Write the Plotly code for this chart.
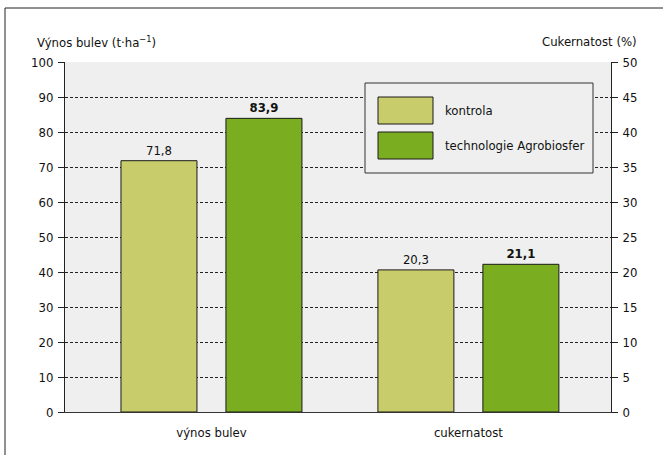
import plotly.graph_objects as go

categories = ["výnos bulev", "cukernatost"]
series_names = ["kontrola", "technologie Agrobiosfer"]
kontrola = [71.8, 20.3]
technologie = [83.9, 21.1]
left_ticks = list(range(0, 101, 10))
right_ticks = list(range(0, 51, 5))

FONT = "DejaVu Sans Condensed, Liberation Sans Narrow, Arial Narrow, sans-serif"
FS = 13
C1 = "#c9cc6b"
C2 = "#7bad21"
BG = "#eeefee"

W, H = 663, 455
L, R, T, B = 65, 611, 62, 412

def px(x):
    return (x - L) / (R - L)

def py(y):
    return (B - y) / (B - T)

def fmt(v):
    return f"{v:.1f}".replace(".", ",")

bw = 76 / 257
gap = 29 / 257

fig = go.Figure()
for vals, color, name, bold, off in [
    (kontrola, C1, series_names[0], False, -(gap / 2 + bw)),
    (technologie, C2, series_names[1], True, gap / 2),
]:
    tmpl = "<b>%{text}</b>" if bold else "%{text}"
    fig.add_bar(x=[categories[0]], y=[vals[0]], yaxis="y", marker=dict(color=color, line=dict(color="#1a1a1a", width=1)),
                width=bw, offset=off, text=[fmt(vals[0])], texttemplate=tmpl, textposition="outside",
                textfont=dict(family=FONT, size=FS, color="#111"), cliponaxis=False, name=name, showlegend=False)
    fig.add_bar(x=[categories[1]], y=[vals[1]], yaxis="y2", marker=dict(color=color, line=dict(color="#1a1a1a", width=1)),
                width=bw, offset=off, text=[fmt(vals[1])], texttemplate=tmpl, textposition="outside",
                textfont=dict(family=FONT, size=FS, color="#111"), cliponaxis=False, name=name, showlegend=False)

shapes = [
    # outer frame
    dict(type="rect", xref="paper", yref="paper", x0=px(5), x1=px(700), y0=py(500), y1=py(8),
         line=dict(color="#222", width=1), fillcolor="rgba(0,0,0,0)", layer="below"),
    # legend box
    dict(type="rect", xref="paper", yref="paper", x0=px(365), x1=px(593), y0=py(173), y1=py(83),
         line=dict(color="#333", width=1), fillcolor=BG, layer="above"),
    dict(type="rect", xref="paper", yref="paper", x0=px(378), x1=px(433), y0=py(124), y1=py(97),
         line=dict(color="#1a1a1a", width=1), fillcolor=C1, layer="above"),
    dict(type="rect", xref="paper", yref="paper", x0=px(378), x1=px(433), y0=py(159), y1=py(132),
         line=dict(color="#1a1a1a", width=1), fillcolor=C2, layer="above"),
]

annotations = [
    dict(text=series_names[0], xref="paper", yref="paper", x=px(443), y=py(110.5), xanchor="left", yanchor="middle",
         showarrow=False, font=dict(family=FONT, size=FS, color="#111")),
    dict(text=series_names[1], xref="paper", yref="paper", x=px(443), y=py(145.5), xanchor="left", yanchor="middle",
         showarrow=False, font=dict(family=FONT, size=FS, color="#111")),
    dict(text="Výnos bulev (t·ha<sup>−1</sup>)", xref="paper", yref="paper", x=px(35), y=py(42), xanchor="left",
         yanchor="middle", showarrow=False, font=dict(family=FONT, size=FS, color="#111")),
    dict(text="Cukernatost (%)", xref="paper", yref="paper", x=px(639), y=py(42), xanchor="right",
         yanchor="middle", showarrow=False, font=dict(family=FONT, size=FS, color="#111")),
]

fig.update_layout(
    width=W, height=H,
    margin=dict(l=L, r=W - R, t=T, b=H - B, pad=0),
    paper_bgcolor="white", plot_bgcolor=BG,
    barmode="overlay",
    showlegend=False,
    font=dict(family=FONT, size=FS, color="#111"),
    shapes=shapes, annotations=annotations,
    xaxis=dict(type="category", range=[-0.57, 1.555], showgrid=False, ticks="", ticklabelstandoff=8,
               showline=True, linecolor="#333", linewidth=1, mirror=False, tickfont=dict(family=FONT, size=FS)),
    yaxis=dict(range=[0, 100], tickvals=left_ticks, ticks="outside", ticklen=6, tickcolor="#222",
               showline=True, linecolor="#222", linewidth=1, showgrid=True, gridcolor="#222", gridwidth=1,
               griddash="3px,2px", zeroline=False, tickfont=dict(family=FONT, size=FS), ticklabelstandoff=2),
    yaxis2=dict(range=[0, 50], tickvals=right_ticks, overlaying="y", side="right", ticks="outside", ticklen=6,
                tickcolor="#222", showline=True, linecolor="#222", linewidth=1, showgrid=False, zeroline=False,
                tickfont=dict(family=FONT, size=FS), ticklabelstandoff=2),
)

fig.write_html("out.html", config={"displayModeBar": False},
               post_script="document.body.style.margin='0';")
